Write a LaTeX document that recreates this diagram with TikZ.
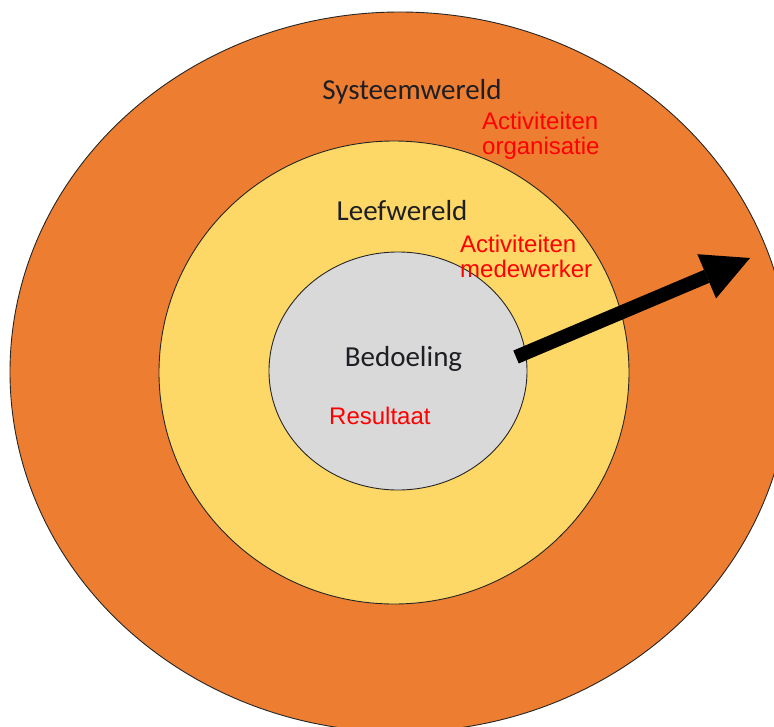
\documentclass[tikz,border=0pt]{standalone}
\usepackage{fontspec}
\usetikzlibrary{arrows.meta}
\newfontfamily\calfont{Carlito}
\newfontfamily\arifont{Liberation Sans}
\definecolor{outerorange}{HTML}{ED7D31}
\definecolor{midyellow}{HTML}{FDD866}
\definecolor{innergray}{HTML}{D9D9D9}
\definecolor{darktext}{HTML}{1E1E24}
\definecolor{redtext}{HTML}{FF0000}
\tikzset{
  ring/.style={draw=black!85, line width=0.9pt},
  blacklabel/.style={inner sep=0pt, anchor=base, text=darktext, font=\calfont\fontsize{29}{34}\selectfont},
  redlabel/.style={inner sep=0pt, anchor=base west, align=left, text=redtext, font=\arifont\fontsize{24}{25}\selectfont},
  bigarrow/.style={line width=14pt, -{Triangle[length=47pt,width=48pt,line width=0pt]}}
}
\begin{document}
\begin{tikzpicture}[x=1pt,y=-1pt]
\useasboundingbox (0,0) rectangle (774,726);
\clip (0,0) rectangle (774,726);
\fill[white] (0,0) rectangle (774,726);
\draw[ring, fill=outerorange] (400,372) ellipse [x radius=390pt, y radius=360pt];
\draw[ring, fill=midyellow] (394,372.5) ellipse [x radius=235pt, y radius=231.5pt];
\draw[ring, fill=innergray] (398,371) ellipse [x radius=129pt, y radius=119pt];
\node[blacklabel] (sys) at (412,99) {Systeemwereld};
\node[blacklabel] (leef) at (402,220) {Leefwereld};
\node[blacklabel] (bed) at (403.5,366) {Bedoeling};
\node[redlabel] (actorg) at (482,154) {Activiteiten\\organisatie};
\node[redlabel] (actmed) at (460,277.5) {Activiteiten\\medewerker};
\node[redlabel] (res) at (329,424) {Resultaat};
\coordinate (tail) at (516,357);
\coordinate (tip) at (750,258);
\draw[bigarrow] (tail) -- (tip);
\end{tikzpicture}
\end{document}
